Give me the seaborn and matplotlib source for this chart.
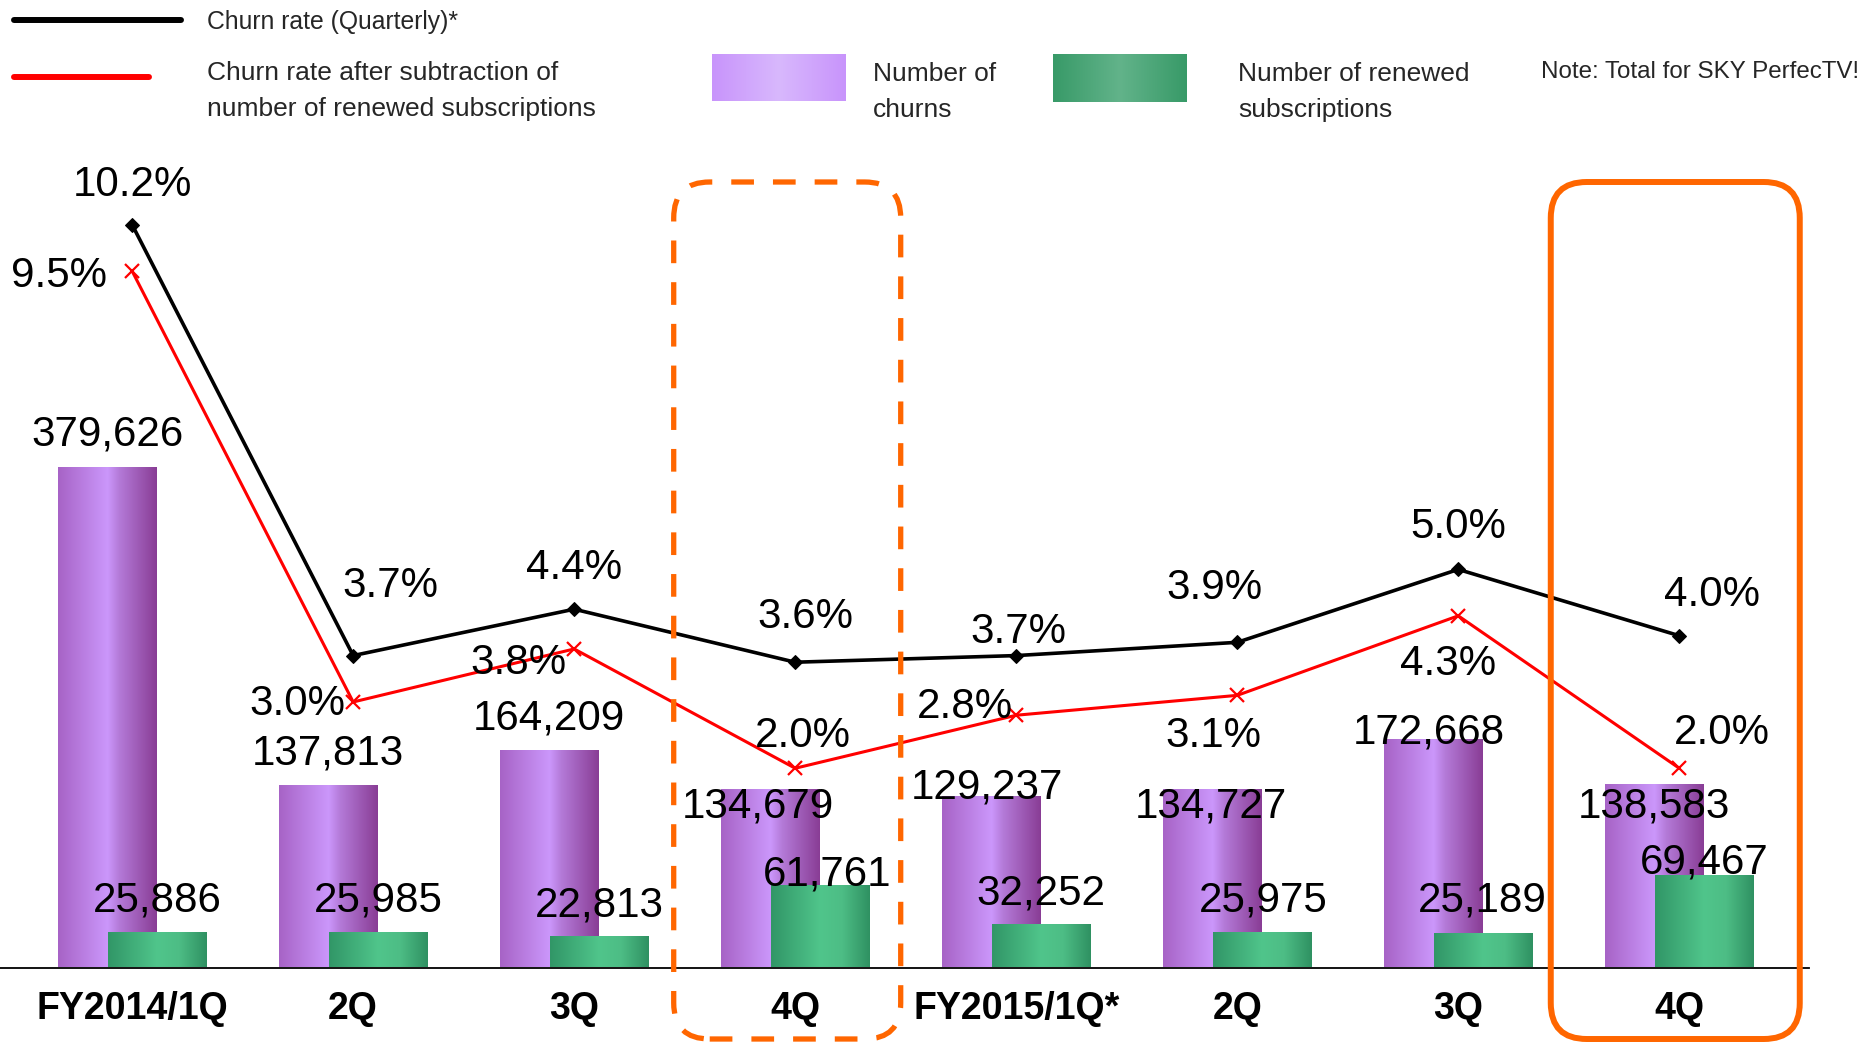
import numpy as np
import pandas as pd
import matplotlib
matplotlib.use("Agg")
import matplotlib.pyplot as plt
import seaborn as sns
from matplotlib.colors import LinearSegmentedColormap
from matplotlib.lines import Line2D
from matplotlib.patches import FancyBboxPatch
from matplotlib.transforms import IdentityTransform

# ---- data -------------------------------------------------------------
quarters = ["FY2014/1Q", "2Q", "3Q", "4Q", "FY2015/1Q*", "2Q", "3Q", "4Q"]
churns = [379626, 137813, 164209, 134679, 129237, 134727, 172668, 138583]
renewed = [25886, 25985, 22813, 61761, 32252, 25975, 25189, 69467]
churn_rate = [10.2, 3.7, 4.4, 3.6, 3.7, 3.9, 5.0, 4.0]
churn_rate_net = [9.5, 3.0, 3.8, 2.0, 2.8, 3.1, 4.3, 2.0]

# ---- label nudges (pixels, x right / y up) -----------------------------
churn_lbl_off = [(0, 33), (0, 33), (0, 33), (-12, -16), (-4, 10), (-1, -16), (-4, 8), (0, -21)]
renew_lbl_off = [(0, 33), (0, 33), (0, 32), (7, 12), (0, 32), (1, 33), (-1, 34), (0, 14)]
rate_lbl_off = [(0, 40), (37, 70), (0, 41), (10, 45), (2, 24), (-23, 54), (0, 42), (33, 41)]
net_lbl_off = [(-73, -5), (-56, -2), (-56, -14), (8, 32), (-51, 8), (-24, -41), (-10, -48), (43, 35)]

sns.set_theme(style="white")
plt.rcParams["font.family"] = ["Liberation Sans", "DejaVu Sans"]

W, H = 1866, 1045
fig = plt.figure(figsize=(W / 100, H / 100), dpi=100)
fig.patch.set_facecolor("white")

base_y, top_y = 967.5, 154.7
ax = fig.add_axes([0, 1 - base_y / H, 1809 / W, (base_y - top_y) / H])
ax2 = ax.twinx()

df = pd.DataFrame({
    "pos": np.arange(len(quarters)),
    "churns": churns,
    "renewed": renewed,
    "rate": churn_rate,
    "rate_net": churn_rate_net,
})

shift, width = 0.113, 0.447
sns.barplot(x=df["pos"] - shift, y=df["churns"], native_scale=True, width=width,
            errorbar=None, color="#b57ad8", ax=ax)
purple_bars = list(ax.patches)
sns.barplot(x=df["pos"] + shift, y=df["renewed"], native_scale=True, width=width,
            errorbar=None, color="#3fae78", ax=ax)
green_bars = list(ax.patches)[len(purple_bars):]

purple_cmap = LinearSegmentedColormap.from_list(
    "cyl_purple", [(0.0, "#a763c6"), (0.5, "#cb97fb"), (0.62, "#b47ad8"), (1.0, "#893d95")])
green_cmap = LinearSegmentedColormap.from_list(
    "cyl_green", [(0.0, "#319667"), (0.5, "#50c58b"), (0.72, "#4dbd85"), (1.0, "#2f9162")])

grad = np.linspace(0, 1, 256).reshape(1, -1)


def shade_bar(bar, cmap, z):
    x, y = bar.get_x(), bar.get_y()
    w, h = bar.get_width(), bar.get_height()
    ax.imshow(grad, extent=[x, x + w, y, y + h], aspect="auto", cmap=cmap,
              interpolation="bilinear", origin="lower", zorder=z)
    bar.set_facecolor("none")
    bar.set_edgecolor("none")


for b in purple_bars:
    shade_bar(b, purple_cmap, 2)
for b in green_bars:
    shade_bar(b, green_cmap, 3)

# bar value labels
lbl_kw = dict(textcoords="offset pixels", ha="center", va="center",
              fontsize=30.3, color="black", zorder=6)
for b, v, off in zip(purple_bars, churns, churn_lbl_off):
    ax.annotate(f"{v:,}", xy=(b.get_x() + b.get_width() / 2, v), xytext=off, **lbl_kw)
for b, v, off in zip(green_bars, renewed, renew_lbl_off):
    ax.annotate(f"{v:,}", xy=(b.get_x() + b.get_width() / 2, v), xytext=off, **lbl_kw)

# churn-rate lines on the secondary axis
sns.lineplot(x=df["pos"], y=df["rate_net"], ax=ax2, color="#ff0000", lw=2.2,
             marker="x", markersize=10, markeredgewidth=1.6,
             markeredgecolor="#ff0000", errorbar=None, sort=False)
sns.lineplot(x=df["pos"], y=df["rate"], ax=ax2, color="black", lw=2.6,
             marker="D", markersize=7, markeredgecolor="black",
             errorbar=None, sort=False)

for p, v, off in zip(df["pos"], churn_rate, rate_lbl_off):
    ax2.annotate(f"{v:.1f}%", xy=(p, v), xytext=off, **lbl_kw)
for p, v, off in zip(df["pos"], churn_rate_net, net_lbl_off):
    ax2.annotate(f"{v:.1f}%", xy=(p, v), xytext=off, **lbl_kw)

# axes cosmetics
ax.set_xlim(-0.598, 7.587)
ax.set_ylim(0, 617540)
ax2.set_ylim(-1.006, 11.257)
ax2.set_xlim(ax.get_xlim())
ax2.set_axis_off()

for s in ["top", "left", "right"]:
    ax.spines[s].set_visible(False)
ax.spines["bottom"].set_color("black")
ax.spines["bottom"].set_linewidth(1.3)
ax.set_yticks([])
ax.set_xticks(df["pos"])
ax.set_xticklabels(quarters, fontsize=27, fontweight="bold", color="black")
ax.tick_params(axis="x", length=0, pad=17)
ax.set_xlabel("")
ax.set_ylabel("")
ax.patch.set_alpha(0)

# orange highlight frames around the two fourth quarters
fig.canvas.draw()
frames = [(3, -8, 227, (0, (4.3, 3.6)), 3.8), (7, -4, 249, "solid", 4.3)]
for idx, dx, fw, ls, lw in frames:
    cx = ax.transData.transform((idx, 0))[0] + dx
    box = FancyBboxPatch((cx - fw / 2, H - 1039), fw, 1039 - 182,
                         boxstyle="round,pad=0,rounding_size=36",
                         transform=IdentityTransform(), fill=False,
                         edgecolor="#ff6600", linewidth=lw, linestyle=ls,
                         clip_on=False, zorder=10)
    fig.add_artist(box)


# ---- legend ------------------------------------------------------------
def fx(x):
    return x / W


def fy(y):
    return 1 - y / H


leg_fs = 19
fig.add_artist(Line2D([fx(14), fx(181)], [fy(20), fy(20)], color="black", lw=4.3,
                      transform=fig.transFigure))
fig.text(fx(207), fy(22), "Churn rate (Quarterly)*", fontsize=17.8, va="center")
fig.add_artist(Line2D([fx(14), fx(149)], [fy(77), fy(77)], color="#ff0000", lw=4.3,
                      transform=fig.transFigure))
fig.text(fx(207), fy(73), "Churn rate after subtraction of", fontsize=leg_fs, va="center")
fig.text(fx(207), fy(109), "number of renewed subscriptions", fontsize=leg_fs, va="center")

swatches = [
    ((712, 54, 846, 101), ["#c894fb", "#d8b8fd", "#c894fb"]),
    ((1053, 54, 1187, 102), ["#389a68", "#62b38a", "#389a68"]),
]
for (x0, y0, x1, y1), cols in swatches:
    sax = fig.add_axes([fx(x0), fy(y1), fx(x1 - x0), (y1 - y0) / H])
    sax.imshow(grad, aspect="auto", interpolation="bilinear",
               cmap=LinearSegmentedColormap.from_list("sw", cols))
    sax.set_axis_off()

fig.text(fx(873), fy(74), "Number of", fontsize=leg_fs, va="center")
fig.text(fx(873), fy(110), "churns", fontsize=leg_fs, va="center")
fig.text(fx(1238), fy(74), "Number of renewed", fontsize=leg_fs, va="center")
fig.text(fx(1238), fy(110), "subscriptions", fontsize=leg_fs, va="center")
fig.text(fx(1541), fy(72), "Note: Total for SKY PerfecTV!", fontsize=17.4, va="center")

fig.savefig("out.png", dpi=100, facecolor="white")
